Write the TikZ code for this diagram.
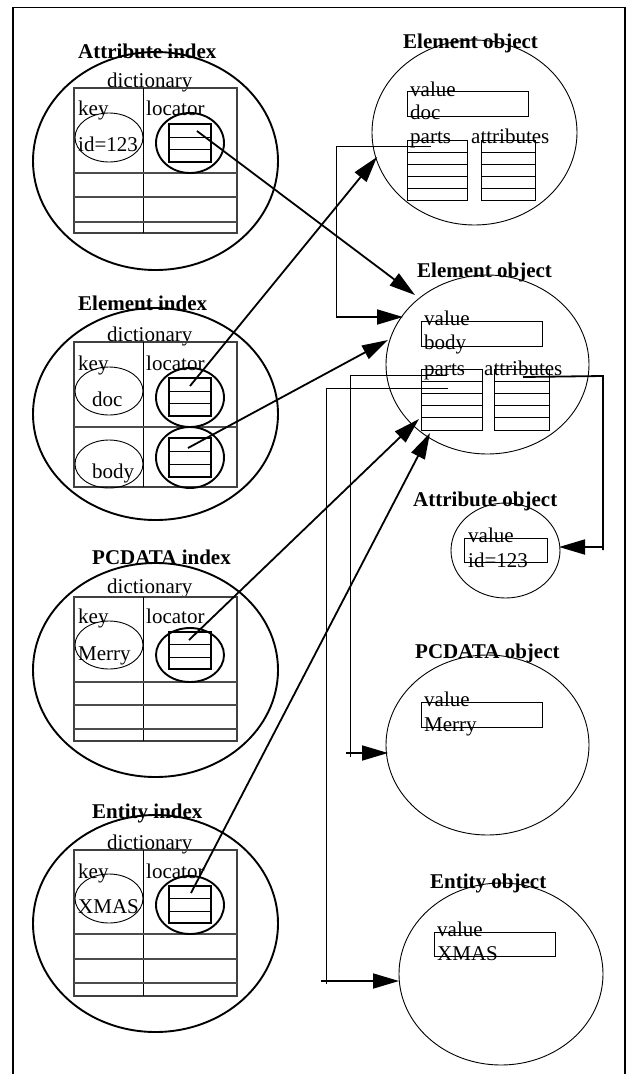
\documentclass[tikz,border=0pt]{standalone}
\usepackage{fontspec}
\setmainfont{Liberation Serif}
\usetikzlibrary{arrows.meta,shapes.geometric}
\begin{document}
\begin{tikzpicture}[x=1pt,y=-1pt,
  lbl/.style={inner sep=0pt, anchor=base west, font=\fontsize{21}{24}\selectfont},
  ttl/.style={inner sep=0pt, anchor=base west, font=\fontsize{21}{24}\selectfont\bfseries},
  heavy/.style={line width=1.9pt},
  fine/.style={line width=0.9pt},
  tedge/.style={line width=1.9pt, draw=black!75},
  trow/.style={line width=1.2pt, draw=black!70},
  oval/.style={ellipse, inner sep=0pt, draw},
  wire/.style={line width=0.9pt},
  link/.style={line width=1.8pt, -{Triangle[length=26pt,width=15pt]}},
]
\useasboundingbox (0,0) rectangle (628,1074);

% frame
\draw[line width=1.8pt] (13,1074) -- (13,7.5) -- (625,7.5) -- (625,1074);

% ---------------- Attribute index ----------------
\node[oval, heavy, minimum width=245pt, minimum height=218pt] (aiOval) at (155.5,161) {};
\node[ttl] (aiTitle) at (78,58.3) {Attribute index};
\node[lbl] (aiDict) at (107,87.3) {dictionary};
\draw[tedge] (74,88) rectangle (237,233);
\draw[fine] (143,88) -- (143,233);
\draw[trow] (74,173) -- (237,173) (74,197) -- (237,197) (74,222) -- (237,222);
\node[lbl] (aiKey) at (78,115) {key};
\node[lbl] (aiLoc) at (146,115) {locator};
\node[oval, fine, minimum width=68pt, minimum height=49pt] (aiKeyOval) at (109,137.5) {};
\node[lbl] (aiVal) at (78,151) {id=123};
\node[oval, heavy, minimum width=68pt, minimum height=60pt] (aiLocOval) at (190,143) {};
\draw[heavy] (169,124) rectangle (211,162);
\draw[fine] (169,137) -- (211,137) (169,149) -- (211,149);

% ---------------- Element index ----------------
\node[oval, heavy, minimum width=245pt, minimum height=212pt] (eiOval) at (155.5,414) {};
\node[ttl] (eiTitle) at (78,310) {Element index};
\node[lbl] (eiDict) at (107,341) {dictionary};
\draw[tedge] (74,342) rectangle (237,487);
\draw[fine] (143,342) -- (143,487);
\draw[trow] (74,427) -- (237,427);
\node[lbl] (eiKey) at (78,370) {key};
\node[lbl] (eiLoc) at (146,370) {locator};
\node[oval, fine, minimum width=68pt, minimum height=48pt] (eiKeyA) at (109,391) {};
\node[lbl] (eiDoc) at (92,406.7) {doc};
\node[oval, heavy, minimum width=68pt, minimum height=59pt] (eiLocA) at (190,397.5) {};
\draw[heavy] (169,378) rectangle (211,416);
\draw[fine] (169,391) -- (211,391) (169,403) -- (211,403);
\node[oval, fine, minimum width=68pt, minimum height=48pt] (eiKeyB) at (109,464) {};
\node[lbl] (eiBody) at (92,478) {body};
\node[oval, heavy, minimum width=68pt, minimum height=61pt] (eiLocB) at (190,457.5) {};
\draw[heavy] (169,438) rectangle (211,477);
\draw[fine] (169,451) -- (211,451) (169,464) -- (211,464);

% ---------------- PCDATA index ----------------
\node[oval, heavy, minimum width=245pt, minimum height=214pt] (piOval) at (155.5,670) {};
\node[ttl] (piTitle) at (92,564.3) {PCDATA index};
\node[lbl] (piDict) at (107,593.3) {dictionary};
\draw[tedge] (74,597) rectangle (237,741);
\draw[fine] (143,597) -- (143,741);
\draw[trow] (74,682) -- (237,682) (74,705) -- (237,705) (74,729) -- (237,729);
\node[lbl] (piKey) at (78,623.3) {key};
\node[lbl] (piLoc) at (146,623.3) {locator};
\node[oval, fine, minimum width=68pt, minimum height=48pt] (piKeyOval) at (109,645) {};
\node[lbl] (piVal) at (78,660.7) {Merry};
\node[oval, heavy, minimum width=68pt, minimum height=54pt] (piLocOval) at (190,655) {};
\draw[heavy] (169,632) rectangle (211,669);
\draw[fine] (169,644) -- (211,644) (169,657) -- (211,657);

% ---------------- Entity index ----------------
\node[oval, heavy, minimum width=245pt, minimum height=217pt] (niOval) at (155.5,923.5) {};
\node[ttl] (niTitle) at (92,818.3) {Entity index};
\node[lbl] (niDict) at (107,849.3) {dictionary};
\draw[tedge] (74,850) rectangle (237,996);
\draw[fine] (143,850) -- (143,996);
\draw[trow] (74,934) -- (237,934) (74,959) -- (237,959) (74,983) -- (237,983);
\node[lbl] (niKey) at (78,878.3) {key};
\node[lbl] (niLoc) at (146,878.3) {locator};
\node[oval, fine, minimum width=68pt, minimum height=49pt] (niKeyOval) at (109,898.5) {};
\node[lbl] (niVal) at (78,913.3) {XMAS};
\node[oval, heavy, minimum width=68pt, minimum height=58pt] (niLocOval) at (190,905) {};
\draw[heavy] (169,886) rectangle (211,923);
\draw[fine] (169,898) -- (211,898) (169,911) -- (211,911);

% ---------------- Element object (doc) ----------------
\node[oval, fine, minimum width=205pt, minimum height=185pt] (eoA) at (474.5,132.5) {};
\node[ttl] (eoATitle) at (403,48.3) {Element object};
\draw[fine] (407,91) rectangle (528,116);
\node[lbl] (eoAValue) at (410,96.7) {value};
\node[lbl] (eoAData) at (410,119.3) {doc};
\node[lbl] (eoAParts) at (410,143.3) {parts};
\node[lbl] (eoAAttr) at (471,143.3) {attributes};
\draw[fine] (407,140) rectangle (467,200) (481,140) rectangle (535,200);
\foreach \r in {152,164,176,188}
  \draw[fine] (407,\r) -- (467,\r) (481,\r) -- (535,\r);

% ---------------- Element object (body) ----------------
\node[oval, fine, minimum width=203pt, minimum height=179pt] (eoB) at (487.5,364.5) {};
\node[ttl] (eoBTitle) at (417,277.3) {Element object};
\draw[fine] (421,321) rectangle (542,346);
\node[lbl] (eoBValue) at (424,325) {value};
\node[lbl] (eoBData) at (424,349.3) {body};
\node[lbl] (eoBParts) at (424,375) {parts};
\node[lbl] (eoBAttr) at (484,375) {attributes};
\draw[fine] (421,369) rectangle (482,430) (494,369) rectangle (549,430);
\foreach \r in {381.2,393.4,405.6,417.8}
  \draw[fine] (421,\r) -- (482,\r) (494,\r) -- (549,\r);

% ---------------- Attribute object ----------------
\node[oval, fine, minimum width=109pt, minimum height=95pt] (ao) at (505.5,550.5) {};
\node[ttl] (aoTitle) at (413,506.7) {Attribute object};
\draw[fine] (464,538) rectangle (547,562);
\node[lbl] (aoValue) at (468,542.3) {value};
\node[lbl] (aoData) at (468,567.3) {id=123};

% ---------------- PCDATA object ----------------
\node[oval, fine, minimum width=203pt, minimum height=180pt] (po) at (487.5,745) {};
\node[ttl] (poTitle) at (415,658.3) {PCDATA object};
\draw[fine] (421,702) rectangle (542,727);
\node[lbl] (poValue) at (424,706.7) {value};
\node[lbl] (poData) at (424,731.7) {Merry};

% ---------------- Entity object ----------------
\node[oval, fine, minimum width=204pt, minimum height=182pt] (no) at (501,974) {};
\node[ttl] (noTitle) at (430,888.3) {Entity object};
\draw[fine] (434,932) rectangle (555,956);
\node[lbl] (noValue) at (437,936.7) {value};
\node[lbl] (noData) at (437,960.7) {XMAS};

% ---------------- connector end points ----------------
\coordinate (aiSrc) at (197,131);
\coordinate (eiSrcA) at (190,386);
\coordinate (eiSrcB) at (188,448);
\coordinate (piSrc) at (189,640);
\coordinate (niSrc) at (191,893);
\coordinate (eoAIn) at (377,157);
\coordinate (eoBInA) at (415,295);
\coordinate (eoBInB) at (388,340);
\coordinate (eoBInC) at (403,317);
\coordinate (partsInA) at (419,419);
\coordinate (partsInB) at (430,433);
\coordinate (aoIn) at (559,547);
\coordinate (poIn) at (388,753);
\coordinate (noIn) at (399,981);

% locators to objects
\draw[link] (aiSrc) -- (eoBInA);
\draw[link] (eiSrcA) -- (eoAIn);
\draw[link] (eiSrcB) -- (eoBInB);
\draw[link] (piSrc) -- (partsInA);
\draw[link] (niSrc) -- (partsInB);

% parts of the doc element
\coordinate (eoAPartsOut) at (431,146);
\draw[wire] (eoAPartsOut) -- (336,146) -- (336,317);
\draw[link] (336,317) -- (eoBInC);

% parts of the body element
\coordinate (eoBPartsOutA) at (447,375);
\coordinate (eoBPartsOutB) at (448,388);
\draw[wire] (eoBPartsOutA) -- (350,375) -- (350,757);
\draw[link] (346,753) -- (poIn);
\draw[wire] (eoBPartsOutB) -- (326,388) -- (326,984);
\draw[link] (321,981) -- (noIn);

% attributes of the body element
\coordinate (eoBAttrOut) at (523,377);
\draw[line width=1.8pt] (eoBAttrOut) -- (603,376) -- (603,550);
\draw[link] (603,547) -- (aoIn);
\end{tikzpicture}
\end{document}
